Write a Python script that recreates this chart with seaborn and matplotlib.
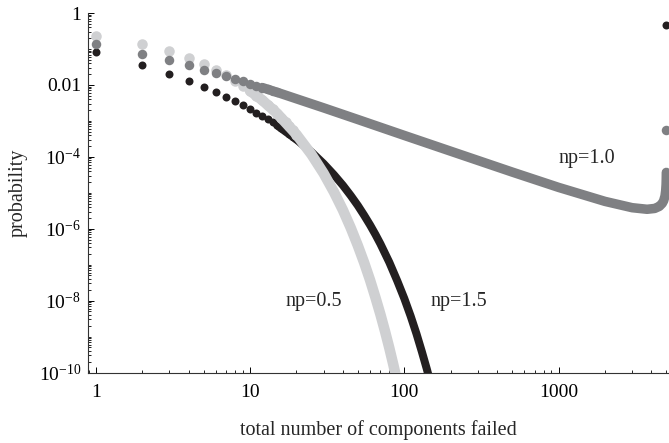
import numpy as np
import pandas as pd
import matplotlib
matplotlib.use("Agg")
import matplotlib.pyplot as plt
from matplotlib.ticker import LogLocator, FixedLocator, NullFormatter
import seaborn as sns

# ==========================
# data
# ==========================
# discrete dots at small r
r_dots = [1, 2, 3, 4, 5, 6, 7, 8, 9, 10, 11, 12, 13, 14, 15, 16, 17, 18, 19, 20]
p05_dots = [0.2233, 0.1352, 0.0855, 0.0560, 0.0378, 0.0261, 0.0183, 0.01306, 0.00942, 0.00687,
            0.00507, 0.00377, 0.00282, 0.00212, 0.00160, 0.00121, 9.27e-4, 7.10e-4, 5.45e-4, 4.17e-4]
p10_dots = [0.1352, 0.0747, 0.0489, 0.0351, 0.0268, 0.0213, 0.01746, 0.01466, 0.01250, 0.01084,
            0.00953, 0.00845, 0.00759, 0.00684, 0.00621, 0.005617, 0.005163, 0.004765, 0.004418, 0.004109]
p15_dots = [0.0821, 0.0366, 0.0206, 0.01303, 0.00885, 0.00631, 0.00466, 0.00351, 0.00272, 0.00213,
            0.00169, 0.00136, 0.00111, 9.06e-4, 7.46e-4, 6.18e-4, 5.15e-4, 4.33e-4, 3.63e-4, 3.03e-4]

# dense part, where the dots merge into a band
r05_band = [10, 12, 15, 20, 25, 30, 35, 40, 45, 50, 55, 60, 65, 70, 75, 80, 85, 90]
p05_band = [6.87e-3, 3.77e-3, 1.60e-3, 4.17e-4, 1.17e-4, 3.47e-5, 1.05e-5, 3.31e-6, 1.05e-6,
            3.39e-7, 1.12e-7, 3.72e-8, 1.23e-8, 4.17e-9, 1.41e-9, 4.79e-10, 1.62e-10, 5.5e-11]

r10_band = [12, 15, 20, 30, 50, 100, 200, 500, 1000, 2000, 3000, 3750, 4200, 4500, 4700,
            4800, 4900, 4950, 4980, 4990, 4995, 4998]
p10_band = [8.45e-3, 6.21e-3, 4.11e-3, 2.30e-3, 1.09e-3, 3.93e-4, 1.43e-4, 3.77e-5, 1.41e-5,
            5.75e-6, 3.84e-6, 3.47e-6, 3.66e-6, 4.18e-6, 5.06e-6, 6.00e-6, 8.13e-6, 1.15e-5,
            1.73e-5, 2.40e-5, 3.13e-5, 3.68e-5]

r15_band = [15, 20, 25, 30, 35, 40, 45, 50, 55, 60, 65, 70, 80, 90, 100, 110, 120, 130, 140, 150]
p15_band = [7.46e-4, 3.03e-4, 1.36e-4, 6.44e-5, 3.16e-5, 1.61e-5, 8.32e-6, 4.41e-6, 2.34e-6,
            1.27e-6, 6.92e-7, 3.80e-7, 1.16e-7, 3.56e-8, 1.15e-8, 3.7e-9, 1.19e-9, 3.8e-10,
            1.25e-10, 4.1e-11]

# total failure (all components)
r_all = [5000]
p10_all = [5.6e-4]
p15_all = [0.45]

# ==========================
# style
# ==========================
sns.set_theme(style="ticks")
plt.rcParams['font.family'] = ['Liberation Serif', 'DejaVu Serif']
plt.rcParams['mathtext.fontset'] = 'custom'
plt.rcParams['mathtext.rm'] = 'Liberation Serif'
plt.rcParams['mathtext.it'] = 'Liberation Serif:italic'

c05 = "#cfd0d2"
c10 = "#7f8083"
c15 = "#231f20"

fig = plt.figure(figsize=(6.69, 4.43), dpi=100)
ax = fig.add_axes([88 / 669, 70.5 / 443, 581 / 669, 359.5 / 443])
ax.set_xscale('log')
ax.set_yscale('log')

series = [
    # dots r, dots p, band r, band p, end r, end p, colour, size(px), zorder
    (r_dots, p15_dots, r15_band, p15_band, r_all, p15_all, c15, 8.0, 2),
    (r_dots, p05_dots, r05_band, p05_band, [], [], c05, 10.5, 3),
    (r_dots[:15], p10_dots[:15], r10_band, p10_band, r_all, p10_all, c10, 9.5, 4),
]

for rd, pd_, rb, pb, re, pe, col, size_px, z in series:
    size_pt = size_px * 72 / 100
    band = pd.DataFrame({"r": rb, "p": pb})
    sns.lineplot(data=band, x="r", y="p", color=col, lw=size_pt, sort=False,
                 estimator=None, solid_capstyle='round', solid_joinstyle='round',
                 zorder=z, ax=ax)
    dots = pd.DataFrame({"r": list(rd) + list(re), "p": list(pd_) + list(pe)})
    sns.scatterplot(data=dots, x="r", y="p", color=col, s=size_pt ** 2, linewidth=0,
                    zorder=z, ax=ax)

ax.set_xlim(0.891, 5200)
ax.set_ylim(1e-10, 1)

# ticks
ax.yaxis.set_major_locator(FixedLocator([1, 1e-2, 1e-4, 1e-6, 1e-8, 1e-10]))
ax.set_yticklabels(["1", "0.01", r"$\mathregular{10^{-4}}$", r"$\mathregular{10^{-6}}$",
                    r"$\mathregular{10^{-8}}$", r"$\mathregular{10^{-10}}$"])
ax.yaxis.set_minor_locator(LogLocator(base=10, subs=np.arange(1, 10), numticks=30))
ax.yaxis.set_minor_formatter(NullFormatter())

ax.xaxis.set_major_locator(FixedLocator([1, 10, 100, 1000]))
ax.set_xticklabels(["1", "10", "100", "1000"])
ax.xaxis.set_minor_locator(LogLocator(base=10, subs=np.arange(2, 10), numticks=30))
ax.xaxis.set_minor_formatter(NullFormatter())

ax.tick_params(which='major', direction='in', length=4.5, width=0.7, labelsize=14,
               colors='black', pad=5)
ax.tick_params(axis='x', which='major', pad=8)
ax.tick_params(which='minor', direction='in', length=2.2, width=0.6, colors='black')
ax.tick_params(axis='y', which='both', right=False)
ax.tick_params(axis='x', which='both', top=False)

for s in ['top', 'right']:
    ax.spines[s].set_visible(False)
for s in ['left', 'bottom']:
    ax.spines[s].set_linewidth(0.8)
    ax.spines[s].set_color('#333333')

ax.set_xlabel("total number of components failed", fontsize=14.5, labelpad=14)
ax.set_ylabel("probability", fontsize=14.5, labelpad=8)

# curve labels
ax.text(1520, 6.9e-5, "np=1.0", fontsize=14.5, ha='center', va='baseline')
ax.text(25.7, 7.3e-9, "np=0.5", fontsize=14.5, ha='center', va='baseline')
ax.text(227, 7.3e-9, "np=1.5", fontsize=14.5, ha='center', va='baseline')

fig.savefig("out.png", dpi=100)
